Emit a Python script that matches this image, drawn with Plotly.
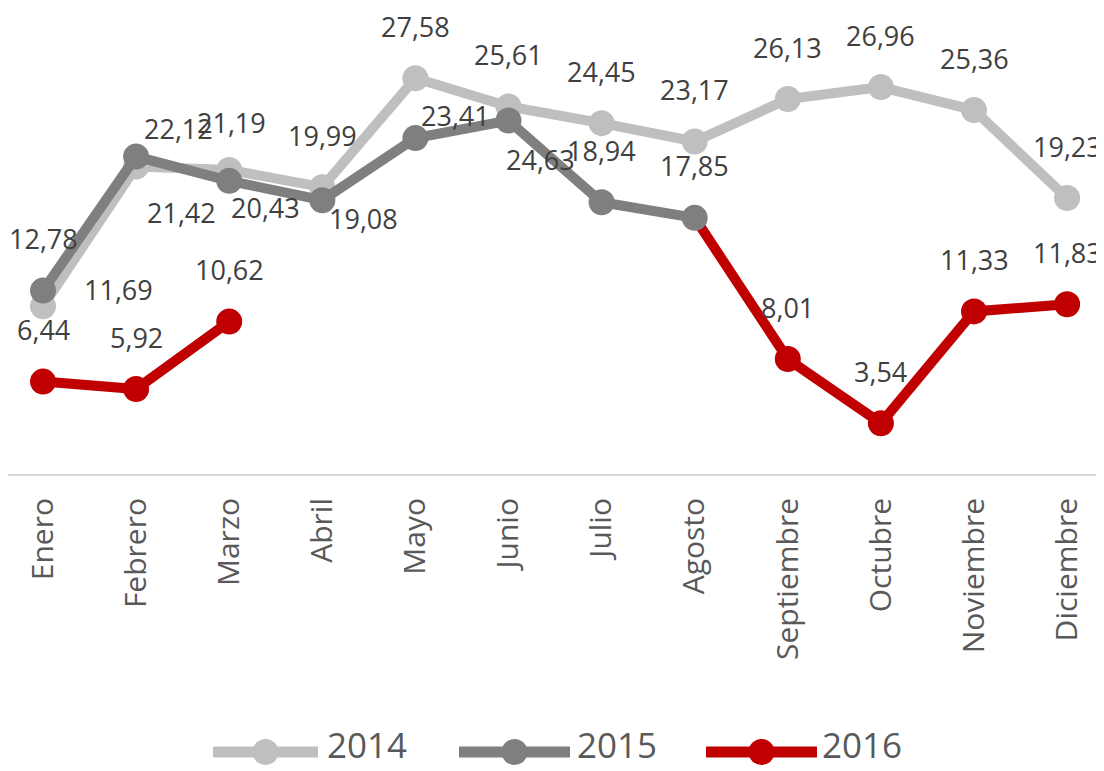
import plotly.graph_objects as go

# months on the category axis
meses = ["Enero", "Febrero", "Marzo", "Abril", "Mayo", "Junio", "Julio",
         "Agosto", "Septiembre", "Octubre", "Noviembre", "Diciembre"]

# values
serie_2014 = [11.69, 21.42, 21.19, 19.99, 27.58, 25.61, 24.45, 23.17, 26.13, 26.96, 25.36, 19.23]
serie_2015 = [12.78, 22.12, 20.43, 19.08, 23.41, 24.63, 18.94, 17.85, None, None, None, None]
# 2016 line starts from the August 2015 point (no marker / label there)
serie_2016 = [6.44, 5.92, 10.62, None, None, None, None, 17.85, 8.01, 3.54, 11.33, 11.83]

anios = ["2014", "2015", "2016"]
colores = {"2014": "#bfbfbf", "2015": "#7f7f7f", "2016": "#c00000"}
series = {"2014": serie_2014, "2015": serie_2015, "2016": serie_2016}

FONT = "Open Sans"
LABEL_COLOR = "#404040"
TICK_COLOR = "#595959"

# label offsets (px) that differ from the default "above" position
default_shift = (0, 52)
label_shift = {
    ("2014", 0): (75, 17),
    ("2014", 1): (45, -46),
    ("2014", 2): (2, 47),
    ("2015", 1): (42, 28),
    ("2015", 2): (36, -27),
    ("2015", 3): (41, -18),
    ("2015", 4): (40, 23),
    ("2015", 5): (32, -39),
}
sin_etiqueta = {("2016", 7)}


def fmt(v):
    return f"{v:.2f}".replace(".", ",")


fig = go.Figure()

# 2016 drawn before 2015 so the grey August marker sits on top of the red line
for anio in ["2014", "2016", "2015"]:
    ys = series[anio]
    sizes = [0 if (anio, i) in sin_etiqueta else 26 for i in range(len(ys))]
    fig.add_trace(go.Scatter(
        x=meses, y=ys, name=anio, mode="lines+markers",
        line=dict(color=colores[anio], width=10),
        marker=dict(color=colores[anio], size=sizes, opacity=1, line=dict(width=0)),
        showlegend=False, hoverinfo="skip",
    ))

annotations = []
for anio in anios:
    for i, v in enumerate(series[anio]):
        if v is None or (anio, i) in sin_etiqueta:
            continue
        dx, dy = label_shift.get((anio, i), default_shift)
        annotations.append(dict(
            x=meses[i], y=v, text=fmt(v), showarrow=False,
            xshift=dx, yshift=dy,
            font=dict(family=FONT, size=27, color=LABEL_COLOR),
        ))

# page has an 8px body margin, so the figure is a bit smaller than the window
OFF = 8
W, H = 1104 - OFF, 771 - OFF
AXIS_Y = 474                      # page y of the category axis
PLOT_H = AXIS_Y - OFF


def px_x(x):
    return (x - OFF) / W


def px_y(y):
    return (AXIS_Y - y) / PLOT_H


# custom legend below the axis (long line with marker in the middle)
leg_y = 752
shapes = []
leg_items = [("2014", 213, 318, 325), ("2015", 459, 570, 575), ("2016", 706, 817, 820)]
for anio, x0, x1, xt in leg_items:
    shapes.append(dict(type="line", xref="paper", yref="paper",
                       x0=px_x(x0), x1=px_x(x1), y0=px_y(leg_y), y1=px_y(leg_y),
                       line=dict(color=colores[anio], width=11)))
    cx = (x0 + x1) / 2
    r = 13
    shapes.append(dict(type="circle", xref="paper", yref="paper",
                       x0=px_x(cx - r), x1=px_x(cx + r),
                       y0=px_y(leg_y + r), y1=px_y(leg_y - r),
                       fillcolor=colores[anio], line=dict(width=0)))
    annotations.append(dict(xref="paper", yref="paper", x=px_x(xt), y=px_y(744),
                            xanchor="left", yanchor="middle", text=anio,
                            showarrow=False,
                            font=dict(family=FONT, size=35, color=TICK_COLOR)))

# category spacing and y scale measured on the reference
step = 93.1
first_x = 43 - OFF
x_lo = -first_x / step
x_hi = 11 + (W - (first_x + 11 * step)) / step
y_hi = PLOT_H / 14.35

fig.update_layout(
    width=W, height=H,
    margin=dict(l=0, r=0, t=0, b=H - PLOT_H),
    plot_bgcolor="white", paper_bgcolor="white",
    annotations=annotations, shapes=shapes,
    showlegend=False,
)
fig.update_xaxes(
    range=[x_lo, x_hi], showgrid=False, zeroline=False,
    showline=True, linecolor="#d9d9d9", linewidth=2,
    ticks="", tickangle=-90, ticklabelstandoff=10,
    tickfont=dict(family=FONT, size=30, color=TICK_COLOR),
)
fig.update_yaxes(range=[0, y_hi], visible=False, showgrid=False, zeroline=False)

fig.write_html("out.html")
